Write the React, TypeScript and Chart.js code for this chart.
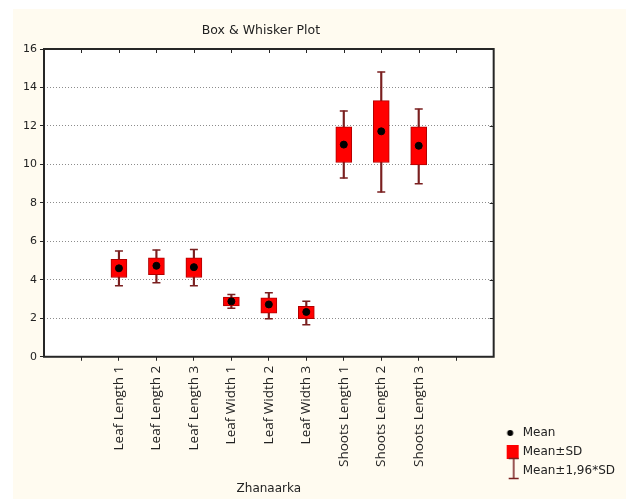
import React, { useEffect, useRef } from 'react';
import { Chart, registerables } from 'chart.js';

Chart.register(...registerables);

const categories = [
  'Leaf Length 1', 'Leaf Length 2', 'Leaf Length 3',
  'Leaf Width 1', 'Leaf Width 2', 'Leaf Width 3',
  'Shoots Length 1', 'Shoots Length 2', 'Shoots Length 3',
];
const positions = [2, 3, 4, 5, 6, 7, 8, 9, 10];
const means = [4.6, 4.73, 4.66, 2.88, 2.72, 2.33, 11.03, 11.72, 10.97];
const sdLow = [4.12, 4.27, 4.12, 2.64, 2.27, 1.98, 10.1, 10.1, 9.97];
const sdHigh = [5.07, 5.15, 5.14, 3.1, 3.06, 2.62, 11.96, 13.32, 11.96];
const ciLow = [3.69, 3.85, 3.69, 2.52, 1.98, 1.67, 9.29, 8.56, 9.0];
const ciHigh = [5.5, 5.55, 5.58, 3.24, 3.33, 2.88, 12.78, 14.8, 12.88];
const yTicks = [0, 2, 4, 6, 8, 10, 12, 14, 16];
const legendLabels = ['Mean', 'Mean±SD', 'Mean±1,96*SD'];

const RED = '#ff0000';
const RED_EDGE = '#b00000';
const WHISKER = '#7a1f1f';
const FRAME = '#262626';
const TEXT = '#222222';
const BG = '#fffbf0';

function makeIcon(kind: string): HTMLCanvasElement {
  const c = document.createElement('canvas');
  c.width = 24;
  c.height = 28;
  const g = c.getContext('2d')!;
  if (kind === 'dot') {
    g.fillStyle = '#000';
    g.beginPath();
    g.arc(13.5, 14, 3, 0, Math.PI * 2);
    g.fill();
  } else if (kind === 'box') {
    g.fillStyle = RED;
    g.fillRect(10, 7, 12, 14);
  } else {
    g.strokeStyle = WHISKER;
    g.lineWidth = 1.5;
    g.beginPath();
    g.moveTo(17, 1.5); g.lineTo(17, 21.5);
    g.moveTo(12, 1.5); g.lineTo(22, 1.5);
    g.moveTo(12, 21.5); g.lineTo(22, 21.5);
    g.stroke();
  }
  return c;
}

const framePlugin = {
  id: 'frame',
  beforeDraw(chart: any) {
    const { ctx, chartArea } = chart;
    const { left, top, right, bottom } = chartArea;
    ctx.save();
    ctx.fillStyle = '#ffffff';
    ctx.fillRect(left, top, right - left, bottom - top);
    ctx.restore();
  },
  afterDraw(chart: any) {
    const { ctx, chartArea, scales } = chart;
    const { left, top, right, bottom } = chartArea;
    ctx.save();
    ctx.strokeStyle = FRAME;
    ctx.lineWidth = 2;
    ctx.strokeRect(left, top, right - left, bottom - top);
    ctx.lineWidth = 1;
    ctx.beginPath();
    scales.x.ticks.forEach((t: any) => {
      const px = Math.round(scales.x.getPixelForValue(t.value)) + 0.5;
      ctx.moveTo(px, top);
      ctx.lineTo(px, top + 4);
    });
    scales.y.ticks.forEach((t: any) => {
      if (t.value === 0 || t.value === 16) return;
      const py = Math.round(scales.y.getPixelForValue(t.value)) + 0.5;
      ctx.moveTo(right, py);
      ctx.lineTo(right - 4, py);
    });
    ctx.stroke();
    ctx.restore();
  },
};

export default function App() {
  const ref = useRef<HTMLCanvasElement>(null);

  useEffect(() => {
    if (!ref.current) return;
    const icons = [makeIcon('dot'), makeIcon('box'), makeIcon('whisker')];

    const chart = new Chart(ref.current, {
      type: 'bar',
      data: {
        datasets: [
          {
            type: 'scatter',
            label: 'Mean',
            data: positions.map((x, i) => ({ x, y: means[i] })),
            backgroundColor: '#000',
            borderColor: '#000',
            pointRadius: 3.5,
            pointHoverRadius: 3.5,
            showLine: false,
            order: 0,
          } as any,
          {
            type: 'bar',
            label: 'Mean±SD',
            data: positions.map((x, i) => ({ x, y: [sdLow[i], sdHigh[i]] })),
            backgroundColor: RED,
            borderColor: RED_EDGE,
            borderWidth: 1,
            borderSkipped: false,
            barThickness: 16,
            grouped: false,
            order: 1,
          } as any,
          {
            type: 'scatter',
            label: 'caps',
            data: positions.flatMap((x, i) => [{ x, y: ciLow[i] }, { x, y: ciHigh[i] }]),
            pointStyle: 'line',
            pointRadius: 4,
            pointHoverRadius: 4,
            borderColor: WHISKER,
            borderWidth: 1.5,
            showLine: false,
            order: 2,
          } as any,
          {
            type: 'bar',
            label: 'Mean±1,96*SD',
            data: positions.map((x, i) => ({ x, y: [ciLow[i], ciHigh[i]] })),
            backgroundColor: WHISKER,
            borderWidth: 0,
            barThickness: 1.5,
            grouped: false,
            order: 3,
          } as any,
        ],
      },
      options: {
        animation: false,
        responsive: false,
        events: [],
        layout: { padding: { left: 7, right: 1, top: 0, bottom: 15 } },
        scales: {
          x: {
            type: 'linear',
            min: 0,
            max: 12,
            offset: false,
            afterBuildTicks: (scale: any) => {
              scale.ticks = scale.ticks.filter((t: any) => t.value >= 1 && t.value <= 11);
            },
            ticks: {
              stepSize: 1,
              autoSkip: false,
              maxRotation: 90,
              minRotation: 90,
              padding: 5,
              color: TEXT,
              font: { family: 'Open Sans', size: 13.5 },
              callback: (v: any) => categories[positions.indexOf(Number(v))] ?? '',
            },
            grid: {
              drawOnChartArea: false,
              drawTicks: true,
              tickLength: 4,
              tickColor: FRAME,
              offset: false,
            },
            border: { display: false },
            title: {
              display: true,
              text: 'Zhanaarka',
              color: TEXT,
              font: { family: 'DejaVu Sans', size: 12 },
              padding: { top: 9.8, bottom: -12.2 },
            },
          },
          y: {
            type: 'linear',
            min: 0,
            max: 16,
            afterBuildTicks: (scale: any) => {
              scale.ticks = yTicks.map((v) => ({ value: v }));
            },
            ticks: {
              stepSize: 2,
              padding: 3,
              color: TEXT,
              font: { family: 'DejaVu Sans', size: 11 },
            },
            grid: {
              color: (c: any) =>
                c.tick && (c.tick.value === 0 || c.tick.value === 16) ? 'rgba(0,0,0,0)' : '#8c8c8c',
              lineWidth: 1,
              tickLength: 4,
              tickColor: FRAME,
            },
            border: { display: false, dash: [1, 2] },
          },
        },
        plugins: {
          tooltip: { enabled: false },
          title: {
            display: true,
            text: 'Box & Whisker Plot\u00a0\u00a0\u00a0\u00a0',
            color: TEXT,
            fullSize: false,
            font: { family: 'DejaVu Sans', size: 12.5, weight: 'normal' },
            padding: { top: 14, bottom: 11 },
          },
          legend: {
            display: true,
            position: 'right',
            align: 'end',
            onClick: () => {},
            labels: {
              usePointStyle: true,
              pointStyleWidth: 16,
              padding: 7,
              color: TEXT,
              font: { family: 'DejaVu Sans', size: 12 },
              generateLabels: () =>
                legendLabels.map((text, i) => ({
                  text,
                  pointStyle: icons[i],
                  fillStyle: 'transparent',
                  strokeStyle: 'transparent',
                  lineWidth: 0,
                  hidden: false,
                  fontColor: TEXT,
                  datasetIndex: i,
                })),
            },
          },
        },
      },
      plugins: [framePlugin],
    } as any);

    return () => chart.destroy();
  }, []);

  return (
    <div
      style={{
        position: 'absolute',
        left: 13,
        top: 9,
        width: 613,
        height: 490,
        background: BG,
      }}
    >
      <canvas ref={ref} width={613} height={490} style={{ display: 'block' }} />
    </div>
  );
}
